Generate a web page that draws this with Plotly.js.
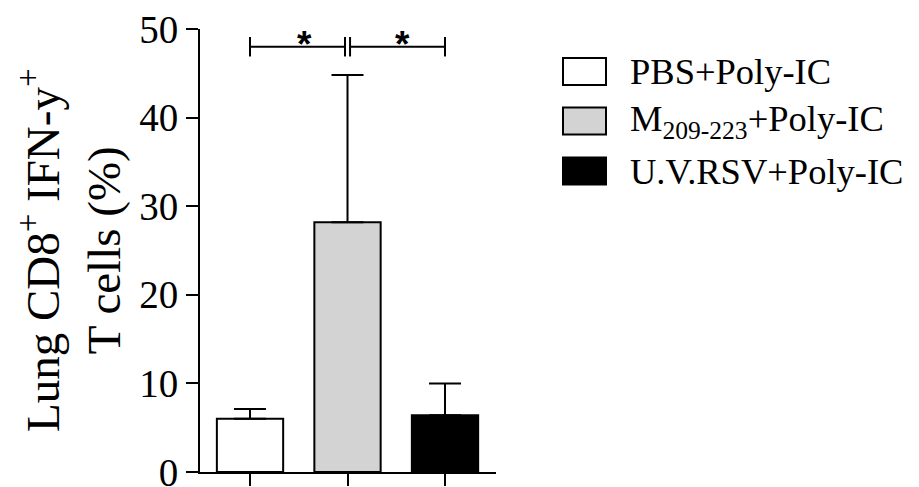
<!DOCTYPE html>
<html>
<head>
<meta charset="utf-8">
<script src="https://cdn.plot.ly/plotly-3.0.1.min.js"></script>
<style>
  html, body { margin: 0; padding: 0; background: #ffffff; }
  #chart { width: 919px; height: 487px; }
</style>
</head>
<body>
<div id="chart"></div>
<script>
// ---- data ----
var categories = ['PBS+Poly-IC', 'M209-223+Poly-IC', 'U.V.RSV+Poly-IC'];
var legendLabels = ['PBS+Poly-IC', 'M<sub>209-223</sub>+Poly-IC', 'U.V.RSV+Poly-IC'];
var meanValues = [6.0, 28.2, 6.4];
var errorUpper = [1.1, 16.6, 3.6];
var barColors = ['#ffffff', '#d3d3d3', '#000000'];
var yTickValues = [0, 10, 20, 30, 40, 50];
var yTickLabels = ['0', '10', '20', '30', '40', '50'];
var sigPairs = [[0, 1], [1, 2]];
var sigLabels = ['*', '*'];
var sigLevel = 48;

// ---- geometry (pixels) ----
var W = 919, H = 487;
var M = {l: 200, r: 423, t: 29, b: 15};
var plotW = W - M.l - M.r, plotH = H - M.t - M.b;
function px2paperX(px) { return (px - M.l) / plotW; }
function px2paperY(py) { return (H - M.b - py) / plotH; }

var serif = 'Liberation Serif, Times New Roman, serif';

var barTrace = {
  type: 'bar',
  x: categories,
  y: meanValues,
  width: 0.68,
  marker: { color: barColors, line: { color: '#000000', width: 2 } },
  error_y: {
    type: 'data', symmetric: false,
    array: errorUpper,
    arrayminus: errorUpper.map(function () { return 0; }),
    color: '#000000', thickness: 2, width: 16
  },
  showlegend: false,
  hoverinfo: 'skip'
};

var shapes = [];
var annotations = [];

// significance brackets
var halfGap = 0.026, tickH = 1.1;
sigPairs.forEach(function (p, i) {
  var x0 = p[0] + (i === 0 ? 0 : halfGap);
  var x1 = p[1] - (i === 0 ? halfGap : 0);
  var ln = { color: '#000000', width: 2 };
  shapes.push({ type: 'line', xref: 'x', yref: 'y', x0: x0, x1: x1, y0: sigLevel, y1: sigLevel, line: ln });
  shapes.push({ type: 'line', xref: 'x', yref: 'y', x0: x0, x1: x0, y0: sigLevel - tickH, y1: sigLevel + tickH, line: ln });
  shapes.push({ type: 'line', xref: 'x', yref: 'y', x0: x1, x1: x1, y0: sigLevel - tickH, y1: sigLevel + tickH, line: ln });
  annotations.push({
    xref: 'x', yref: 'y', x: (p[0] + p[1]) / 2 + 0.06, y: sigLevel,
    text: sigLabels[i], showarrow: false, xanchor: 'center', yanchor: 'bottom', yshift: -20,
    font: { family: 'Liberation Sans, Arial, sans-serif', size: 37, color: '#000000', weight: 'bold' }
  });
});

// manual legend
var legRowY = [71.5, 121, 171];
legendLabels.forEach(function (lab, i) {
  shapes.push({
    type: 'rect', xref: 'paper', yref: 'paper',
    x0: px2paperX(563), x1: px2paperX(606),
    y0: px2paperY(legRowY[i] + 13.5), y1: px2paperY(legRowY[i] - 13.5),
    fillcolor: barColors[i], line: { color: '#000000', width: 2 }
  });
  annotations.push({
    xref: 'paper', yref: 'paper', x: px2paperX(628), y: px2paperY(legRowY[i]),
    text: lab, showarrow: false, xanchor: 'left', yanchor: 'middle',
    font: { family: serif, size: 36.5, color: '#000000' }
  });
});

// y-axis title (two lines)
annotations.push({
  xref: 'paper', yref: 'paper', x: px2paperX(70), y: px2paperY(250),
  text: 'Lung CD8<sup>+</sup> IFN-y<sup>+</sup><br>T cells (%)',
  textangle: -90, showarrow: false, xanchor: 'center', yanchor: 'middle',
  font: { family: serif, size: 47, color: '#000000' }
});

var layout = {
  width: W, height: H,
  margin: { l: M.l, r: M.r, t: M.t, b: M.b, pad: 0 },
  paper_bgcolor: '#ffffff', plot_bgcolor: '#ffffff',
  xaxis: {
    type: 'category', range: [-0.513, 2.523],
    showticklabels: false, ticks: 'outside', ticklen: 12, tickwidth: 2, tickcolor: '#000000',
    showline: true, linecolor: '#000000', linewidth: 2,
    showgrid: false, zeroline: false, fixedrange: true
  },
  yaxis: {
    range: [0, 50], tickmode: 'array', tickvals: yTickValues, ticktext: yTickLabels,
    ticks: 'outside', ticklen: 12, tickwidth: 2, tickcolor: '#000000',
    tickfont: { family: serif, size: 39, color: '#000000' },
    ticklabeloverflow: 'allow',
    showline: true, linecolor: '#000000', linewidth: 2,
    showgrid: false, zeroline: false, fixedrange: true
  },
  shapes: shapes,
  annotations: annotations,
  showlegend: false
};

Plotly.newPlot('chart', [barTrace], layout, { displayModeBar: false, staticPlot: true });
</script>
</body>
</html>
